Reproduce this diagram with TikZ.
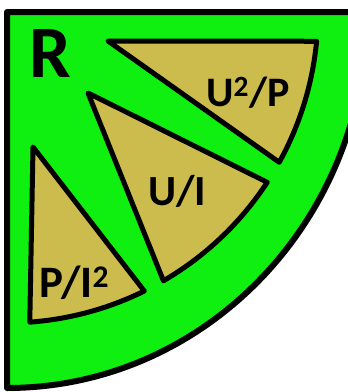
\documentclass[tikz,border=0pt]{standalone}
\usepackage{fontspec}
\setmainfont{Carlito}
\definecolor{leafgreen}{RGB}{16,240,16}
\definecolor{wedgefill}{RGB}{204,188,78}

\begin{document}
\begin{tikzpicture}[
    x=1pt, y=-1pt,
    border/.style={draw=black, line width=6pt, fill=leafgreen, line join=round},
    wedge/.style={draw=black, line width=5pt, fill=wedgefill, line join=round},
    lbl/.style={anchor=base west, inner sep=0pt, font=\bfseries\fontsize{#1}{#1}\selectfont}
]
\useasboundingbox (0,0) rectangle (348,392);
\clip (0,0) rectangle (348,392);

% quarter disc
\coordinate (ctr) at (7,12);
\draw[border] (ctr) -- (367,12) arc[start angle=0, end angle=90, x radius=360, y radius=376] -- cycle;

% wedges
\draw[wedge] (108,41) -- ([shift={(5.4:311)}]ctr) arc[start angle=5.4, end angle=28.9, radius=311] -- cycle;
\draw[wedge] (88,93) -- ([shift={(33.2:311)}]ctr) arc[start angle=33.2, end angle=59.8, radius=311] -- cycle;
\draw[wedge] (33,147) -- ([shift={(63.8:311)}]ctr) arc[start angle=63.8, end angle=85.8, radius=311] -- cycle;

% labels
\node[lbl=74] (res) at (29,77) {R};
\node[lbl=42] (upow) at (206,106) {U\textsuperscript{2}/P};
\node[lbl=43] (ui) at (148,205) {U/I};
\node[lbl=45] (pii) at (39,297) {P/I\textsuperscript{2}};

\end{tikzpicture}
\end{document}
